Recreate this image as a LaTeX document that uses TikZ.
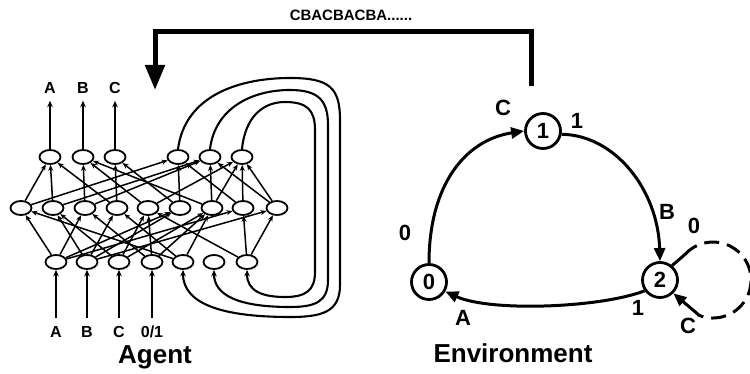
\documentclass[tikz,border=0pt]{standalone}
\usepackage{fontspec}
\setmainfont{Liberation Sans}
\usetikzlibrary{arrows.meta,shapes.geometric}
\begin{document}
\begin{tikzpicture}[x=1pt,y=-1pt,
  unit/.style={ellipse, draw, line width=1.8pt, minimum width=21pt, minimum height=14pt, inner sep=0pt},
  net/.style={line width=1.5pt, -{Stealth[length=6pt,width=5pt]}},
  io/.style={line width=2pt, -{Stealth[length=6.5pt,width=5.5pt]}},
  rec/.style={line width=2.1pt, -{Stealth[length=6.5pt,width=5.5pt]}},
  lbl/.style={inner sep=1pt, font=\bfseries\fontsize{16}{16}\selectfont},
  state/.style={circle, draw, line width=2.8pt, minimum size=35pt, inner sep=0pt, font=\bfseries\fontsize{22}{22}\selectfont},
  tr/.style={line width=3pt, -{Triangle[length=13pt,width=11pt]}},
  trline/.style={line width=3pt},
  elbl/.style={inner sep=0pt, font=\bfseries\fontsize{22}{22}\selectfont},
  ttl/.style={inner sep=0pt, font=\bfseries\fontsize{26}{26}\selectfont}]
\clip (0,0) rectangle (750,374);
\fill[white] (0,0) rectangle (750,374);

% ---------- network units ----------
\foreach \n/\x in {1/50,2/83,3/115,4/178,5/210,6/242}
  \node[unit] (T\n) at (\x,157) {};
\foreach \n/\x in {1/21,2/53,3/85,4/117,5/148,6/180,7/212,8/243,9/277}
  \node[unit] (M\n) at (\x,208) {};
\foreach \n/\x in {1/56,2/87,3/119,4/152,5/183,6/214,7/247}
  \node[unit] (B\n) at (\x,262) {};

% bottom -> middle
\foreach \b/\m in {1/1,1/3,1/6,1/8, 2/2,2/4,2/6,2/9, 3/2,3/5,3/7, 4/3,4/5,4/7, 5/1,5/4,5/7, 7/5,7/8,7/9}
  \draw[net] (B\b) -- (M\m);
% middle -> top
\foreach \m/\t in {1/1,1/4, 2/1,2/5, 3/2,3/5, 4/3,4/1, 5/2,5/6, 6/4,6/3, 7/5,7/6,7/2, 8/6,8/4, 9/5,9/6}
  \draw[net] (M\m) -- (T\t);

% outputs
\node[lbl] (oA) at (50,88) {A};
\node[lbl] (oB) at (83,88) {B};
\node[lbl] (oC) at (115,88) {C};
\draw[io, shorten >=6pt] (T1) -- (oA);
\draw[io, shorten >=6pt] (T2) -- (oB);
\draw[io, shorten >=6pt] (T3) -- (oC);

% inputs
\node[lbl] (iA) at (56,332) {A};
\node[lbl] (iB) at (87,332) {B};
\node[lbl] (iC) at (119,332) {C};
\node[lbl] (i01) at (152,332) {0/1};
\draw[io, shorten <=7pt] (iA) -- (B1);
\draw[io, shorten <=7pt] (iB) -- (B2);
\draw[io, shorten <=7pt] (iC) -- (B3);
\draw[io, shorten <=7pt] (i01) -- (B4);

% recurrent copy-back loops
\draw[rec] (T4.north) .. controls (185,95) and (240,78) .. (290,78)
  .. controls (330,78) and (340,88) .. (340,120) -- (340,285)
  .. controls (340,312) and (322,317) .. (290,317)
  .. controls (225,317) and (183,305) .. (B5.south);
\draw[rec] (T5.north) .. controls (215,108) and (252,90) .. (290,90)
  .. controls (318,90) and (328,100) .. (328,125) -- (328,280)
  .. controls (328,302) and (315,307) .. (290,307)
  .. controls (240,307) and (214,296) .. (B6.south);
\draw[rec] (T6.north) .. controls (245,118) and (262,102) .. (285,102)
  .. controls (307,102) and (315,110) .. (315,130) -- (315,272)
  .. controls (315,291) and (305,297) .. (285,297)
  .. controls (262,297) and (247,291) .. (B7.south);

\node[ttl] (agent) at (155,357) {Agent};

% ---------- big arrow ----------
\node[inner sep=0pt, font=\bfseries\fontsize{15}{15}\selectfont] (seq) at (351,15) {CBACBACBA......};
\coordinate (bigS) at (531,86);
\coordinate (bigE) at (155,90);
\draw[line width=5pt, line join=miter, -{Triangle[length=25pt,width=19pt]}]
  (bigS) -- (531,32) -- (155,32) -- (bigE);

% ---------- environment ----------
\node[state] (S0) at (429,282) {0};
\node[state] (S1) at (543,131) {1};
\node[state] (S2) at (660,280) {2};

\draw[tr] (S0.north) .. controls (429,185) and (465,140) .. (S1.west);
\draw[tr] (S1.-10) .. controls (615,135) and (658,190) .. (S2.north);
\draw[tr] (S2.215) .. controls (600,308) and (490,312) .. (S0.-30);

\coordinate (loopS) at (684.8,254.6);
\coordinate (loopE) at (698.5,314.7);
\draw[trline] (S2.50) -- (loopS);
\draw[trline, dash pattern=on 15pt off 8pt] (loopS) arc[start angle=222, end angle=474, radius=38];
\draw[tr] (loopE) -- (S2.-45);

\node[elbl] at (503,108) {C};
\node[elbl] at (577,121) {1};
\node[elbl] at (405,233) {0};
\node[elbl] at (667,212) {B};
\node[elbl] at (694,226) {0};
\node[elbl] at (638,308) {1};
\node[elbl] at (463,318) {A};
\node[elbl] at (688,326) {C};

\node[ttl] (env) at (513,353) {Environment};
\end{tikzpicture}
\end{document}
